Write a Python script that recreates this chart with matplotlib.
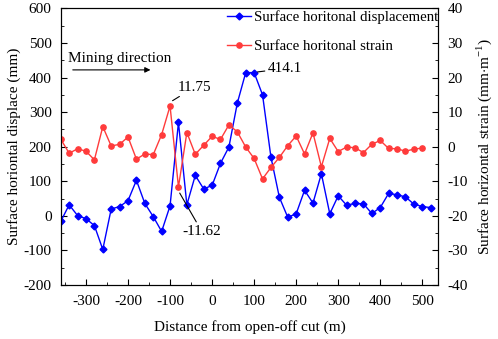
import matplotlib
matplotlib.use('Agg')
from matplotlib import pyplot as plt

plt.rcParams['font.family'] = ['Liberation Serif', 'DejaVu Serif']
plt.rcParams['mathtext.fontset'] = 'custom'
plt.rcParams['mathtext.rm'] = 'Liberation Serif'
plt.rcParams['font.size'] = 11
plt.rcParams['axes.unicode_minus'] = False

# distance from open-off cut (m)
dist_disp = [-360, -340, -320, -300, -280, -260, -240, -220, -200, -180,
             -160, -140, -120, -100, -80, -60, -40, -20, 0, 20,
             40, 60, 80, 100, 120, 140, 160, 180, 200, 220,
             240, 260, 280, 300, 320, 340, 360, 380, 400, 420,
             440, 460, 480, 500, 520]
displacement = [-16, 32, 1, -8, -28, -97, 20, 27, 44, 103,
                36, -2, -45, 29, 270, 32, 117, 78, 88, 152,
                199, 326, 414.1, 414.1, 350, 170, 54, -4, 6, 74,
                37, 122, 6, 58, 31, 36, 35, 7, 24, 65,
                61, 55, 34, 27, 24]

dist_strain = dist_disp[:-1]
strain = [2.2, -1.9, -0.6, -1.3, -3.8, 5.8, 0.2, 0.7, 2.8, -3.6,
          -2.1, -2.3, 3.5, 11.75, -11.62, 4.1, -2.2, 0.4, 3.0, 2.1,
          6.3, 4.3, -0.1, -3.4, -9.3, -6.0, -3.1, 0.3, 3.1, -2.1,
          4.0, -5.8, 2.4, -1.4, -0.1, -0.3, -1.7, 0.7, 1.8, -0.5,
          -0.6, -1.3, -0.7, -0.4]

fig = plt.figure(figsize=(4.98, 3.39), dpi=100)
ax = fig.add_axes([0.122, 0.159, 0.758, 0.8165])
ax2 = ax.twinx()

l1, = ax.plot(dist_disp, displacement, color='#0000ff', lw=1.0, marker='D',
              ms=3.5, label='Surface horitonal displacement')
l2, = ax2.plot(dist_strain, strain, color='#ff3b3b', lw=1.0, marker='o',
               ms=3.8, label='Surface horitonal strain')

ax.set_xlim(-360, 538)
ax.set_ylim(-200, 600)
ax2.set_ylim(-40, 40)
ax.set_xticks(range(-300, 501, 100))
ax.set_xticks(range(-350, 540, 50), minor=True)
ax.set_yticks(range(-200, 601, 100))
ax.set_yticks(range(-150, 600, 100), minor=True)
ax2.set_yticks(range(-40, 41, 10))
ax2.set_yticks(range(-35, 40, 10), minor=True)

for a in (ax, ax2):
    a.tick_params(which='both', direction='in')
    a.tick_params(which='major', length=4)
    a.tick_params(which='minor', length=2.5)
ax.tick_params(top=False, which='both')
ax.tick_params(axis='x', which='major', pad=7)
ax.tick_params(axis='y', which='major', pad=6.5)
ax2.tick_params(axis='y', which='major', pad=6.5)

ax.set_xlabel('Distance from open-off cut (m)', labelpad=9)
ax.set_ylabel('Surface horiontal displace (mm)', labelpad=2)
ax2.set_ylabel('Surface horizontal strain (mm$\\cdot$m$^{\\mathregular{-1}}$)', labelpad=5)

ax2.legend(handles=[l1, l2], loc='upper left', bbox_to_anchor=(0.435, 1.0),
           frameon=False, borderpad=0.15, borderaxespad=0, handlelength=1.6,
           handletextpad=0.25, labelspacing=1.05, fontsize=10.6)

ax.annotate('', xy=(-140, 422), xytext=(-338, 422),
            arrowprops=dict(arrowstyle='-|>', color='black', lw=0.8,
                            mutation_scale=8))
ax.text(-342, 456, 'Mining direction', va='center', ha='left')
ax2.annotate('11.75', xy=(-94, 13.3), xytext=(-82, 17.2), va='center',
             arrowprops=dict(arrowstyle='-', color='black', lw=0.8,
                             shrinkA=0, shrinkB=0))
ax2.annotate('-11.62', xy=(-77, -13.4), xytext=(-71, -24.4), va='center',
             arrowprops=dict(arrowstyle='-', color='black', lw=0.8,
                             shrinkA=0, shrinkB=0))
ax.annotate('414.1', xy=(108, 416), xytext=(132, 426), va='center',
            arrowprops=dict(arrowstyle='-', color='black', lw=0.8,
                            shrinkA=0, shrinkB=0))

fig.savefig('out.png', dpi=100)
